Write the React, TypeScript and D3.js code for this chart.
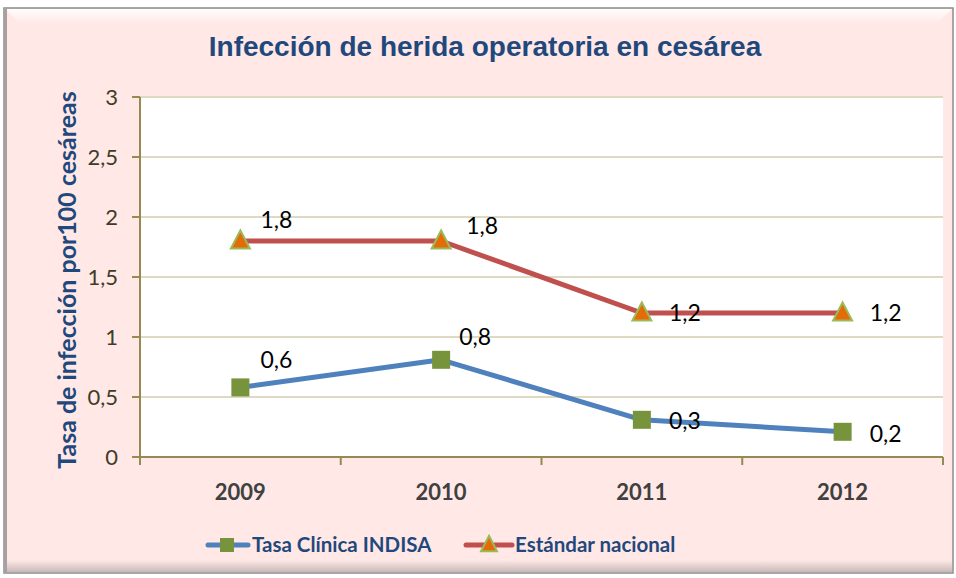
import React from 'react';
import * as d3 from 'd3';

// chart data
const years = ['2009', '2010', '2011', '2012'];
const tasaIndisa = [0.58, 0.81, 0.31, 0.21];
const tasaLabels = ['0,6', '0,8', '0,3', '0,2'];
const estandarNacional = [1.8, 1.8, 1.2, 1.2];
const estandarLabels = ['1,8', '1,8', '1,2', '1,2'];
const yTicks = [0, 0.5, 1, 1.5, 2, 2.5, 3];

// label nudges (px) relative to each point, as Excel placed them
const tasaNudge = [[20, -27], [18, -23], [27, 1], [27, 2]];
const estandarNudge = [[20, -21], [25, -15], [27, 0], [27, 0]];

const W = 956;
const H = 578;
const plot = { left: 140, right: 943, top: 97, bottom: 457 };

const BLUE = '#4F81BD';
const RED = '#C0504D';
const GREEN = '#77933C';
const ORANGE = '#E36C09';
const NAVY = '#1F497D';
const AXIS = '#948A54';
const GRID = '#DDD9C3';
const FONT = 'Lato, "Open Sans", sans-serif';

const fmt = (v: number) => String(v).replace('.', ',');

const Square = ({ x, y, s = 18 }: { x: number; y: number; s?: number }) => (
  <rect x={x - s / 2} y={y - s / 2} width={s} height={s} fill={GREEN} />
);

const Triangle = ({ x, y, s = 19 }: { x: number; y: number; s?: number }) => {
  const h = s * 0.9;
  return (
    <path
      d={`M${x},${y - h / 2 - 2} L${x + s / 2},${y + h / 2 - 1} L${x - s / 2},${y + h / 2 - 1} Z`}
      fill={ORANGE}
      stroke="#9BBB59"
      strokeWidth={2}
      strokeLinejoin="miter"
    />
  );
};

export default function App() {
  const x = d3.scaleBand<string>().domain(years).range([plot.left, plot.right]);
  const y = d3.scaleLinear().domain([0, 3]).range([plot.bottom, plot.top]);
  const cx = (yr: string) => (x(yr) ?? 0) + x.bandwidth() / 2;

  const line = d3.line<number>()
    .x((_, i) => cx(years[i]))
    .y(d => y(d));

  const boundaries = d3.range(years.length + 1).map(i => plot.left + i * x.bandwidth());

  return (
    <svg width={W} height={H} style={{ position: 'absolute', left: 0, top: 0 }}
      xmlns="http://www.w3.org/2000/svg">
      <defs>
        <linearGradient id="bottomShade" x1="0" y1="0" x2="0" y2="1">
          <stop offset="0" stopColor="#FFE9E7" />
          <stop offset="1" stopColor="#C8B9B8" />
        </linearGradient>
        <linearGradient id="topShade" x1="0" y1="0" x2="0" y2="1">
          <stop offset="0" stopColor="#FFFFFF" />
          <stop offset="1" stopColor="#FFE9E7" />
        </linearGradient>
      </defs>

      <rect x={0} y={0} width={W} height={H} fill="#FFFFFF" />

      {/* chart frame */}
      <rect x={4} y={8} width={949} height={565} fill="#FFE8E6" stroke="#8C8C8C" strokeWidth={1.5} />
      <path d="M5,9 L952,9 L936,24 L20,24 Z" fill="url(#topShade)" opacity={0.9} />
      <rect x={5} y={560} width={947} height={12} fill="url(#bottomShade)" />
      <rect x={4} y={8} width={3} height={565} fill="#A8A0A0" />

      {/* title */}
      <text x={485} y={56} textAnchor="middle" fill={NAVY}
        fontFamily='"Liberation Sans Narrow", "Arial Narrow", sans-serif'
        fontWeight="bold" fontSize={28}>
        Infección de herida operatoria en cesárea
      </text>

      {/* plot area */}
      <rect x={plot.left} y={plot.top} width={plot.right - plot.left} height={plot.bottom - plot.top} fill="#FFFFFF" />

      {yTicks.filter(t => t > 0).map(t => (
        <line key={t} x1={plot.left} x2={plot.right} y1={y(t)} y2={y(t)} stroke={GRID} strokeWidth={2} />
      ))}

      {/* y axis */}
      <line x1={plot.left} x2={plot.left} y1={plot.top} y2={plot.bottom} stroke={AXIS} strokeWidth={2} />
      {yTicks.map(t => (
        <g key={t}>
          <line x1={plot.left - 8} x2={plot.left} y1={y(t)} y2={y(t)} stroke={AXIS} strokeWidth={2} />
          <text x={plot.left - 22} y={y(t)} dy="0.35em" textAnchor="end" fill="#3F3C26"
            fontFamily={FONT} fontSize={22}>{fmt(t)}</text>
        </g>
      ))}

      {/* x axis */}
      <line x1={plot.left} x2={plot.right} y1={plot.bottom} y2={plot.bottom} stroke={AXIS} strokeWidth={2} />
      {boundaries.map(b => (
        <line key={b} x1={b} x2={b} y1={plot.bottom} y2={plot.bottom + 8} stroke={AXIS} strokeWidth={2} />
      ))}
      {years.map(yr => (
        <text key={yr} x={cx(yr)} y={492} dy="0.35em" textAnchor="middle" fill="#404040"
          fontFamily={FONT} fontWeight="bold" fontSize={22}>{yr}</text>
      ))}

      {/* y axis title */}
      <text transform="translate(67,280) rotate(-90)" textAnchor="middle" dy="0.35em" fill={NAVY}
        fontFamily={FONT} fontWeight="bold" fontSize={25}>
        Tasa de infección por100 cesáreas
      </text>

      {/* series lines */}
      <path d={line(estandarNacional) ?? ''} fill="none" stroke={RED} strokeWidth={5} strokeLinejoin="round" />
      <path d={line(tasaIndisa) ?? ''} fill="none" stroke={BLUE} strokeWidth={5} strokeLinejoin="round" />

      {/* markers */}
      {estandarNacional.map((v, i) => <Triangle key={i} x={cx(years[i])} y={y(v)} />)}
      {tasaIndisa.map((v, i) => <Square key={i} x={cx(years[i])} y={y(v)} />)}

      {/* data labels */}
      {estandarNacional.map((v, i) => (
        <text key={`e${i}`} x={cx(years[i]) + estandarNudge[i][0]} y={y(v) + estandarNudge[i][1]} dy="0.35em"
          fill="#000000" fontFamily={FONT} fontSize={23}>{estandarLabels[i]}</text>
      ))}
      {tasaIndisa.map((v, i) => (
        <text key={`t${i}`} x={cx(years[i]) + tasaNudge[i][0]} y={y(v) + tasaNudge[i][1]} dy="0.35em"
          fill="#000000" fontFamily={FONT} fontSize={23}>{tasaLabels[i]}</text>
      ))}

      {/* legend */}
      <g fontFamily={FONT} fontWeight="bold" fontSize={20.5} fill={NAVY}>
        <line x1={208} x2={248} y1={545} y2={545} stroke={BLUE} strokeWidth={5} strokeLinecap="round" />
        <Square x={227} y={545} s={14} />
        <text x={252} y={545} dy="0.35em">Tasa Clínica INDISA</text>
        <line x1={466} x2={512} y1={545} y2={545} stroke={RED} strokeWidth={5} strokeLinecap="round" />
        <Triangle x={489} y={545} s={16} />
        <text x={515} y={545} dy="0.35em">Estándar nacional</text>
      </g>
    </svg>
  );
}
